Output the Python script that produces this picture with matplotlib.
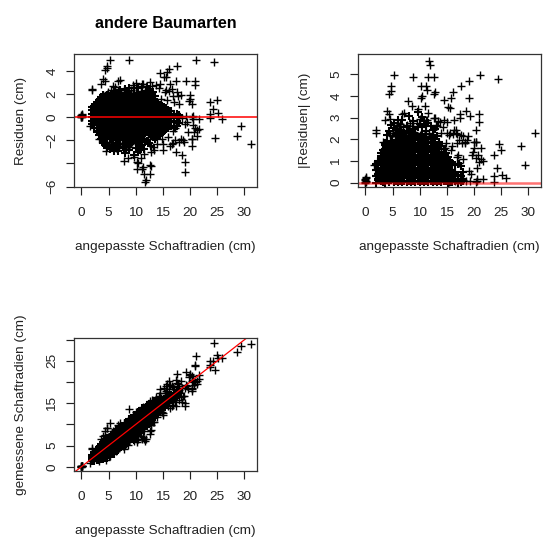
import numpy as np
import matplotlib
matplotlib.use("Agg")
import matplotlib.pyplot as plt

plt.rcParams['font.family'] = ['Liberation Sans', 'DejaVu Sans']

# points near zero (fitted, residual)
zero_fitted = [-0.06, 0.0, 0.05, 0.1, 0.0, 0.04, -0.03, 0.08]
zero_resid = [0.05, 0.12, 0.2, 0.1, 0.0, 0.25, 0.16, 0.03]

# single readable points outside the black mass
outer_fitted = [5.3, 4.66, 4.4, 4.8, 8.83, 21.1, 24.4, 17.5, 16.1, 15.7, 14.5, 15.2, 15.5, 14.5, 16.3, 17.4,
                19.3, 20.9, 20.9, 19.9, 20.0, 20.3, 23.7, 25.0, 24.3, 25.2, 23.7, 23.7, 25.8, 29.3,
                28.7, 31.2, 24.6, 21.7, 20.5, 21.7, 21.2, 20.3, 20.3, 19.6, 19.4, 20.6, 20.7, 18.8,
                17.9, 18.5, 19.0, 19.0, 17.4, 16.6, 16.9, 15.1, 16.0, 14.5, 12.6, 12.6, 11.7, 11.9,
                11.5, 11.1, 10.5, 10.2, 7.85, 4.5, 1.6, 1.9, 2.0, 4.0, 3.7, 4.4, 6.8, 7.2, 11.1,
                12.6, 11.4, 12.8, 10.2, 10.9, 16.9, 17.7, 18.3, 17.1, 19.8, 18.0, 15.6, 16.6, 13.7,
                14.2, 15.3, 16.1, 17.5, 12.9, 13.4, 15.0, 16.3, 17.3, 18.4, 14.0, 14.8, 11.6, 13.2,
                9.6, 8.6, 3.3, 5.8, 6.2, 20.4, 20.9, 21.3, 19.1, 18.7, 17.2, 9.5, 10.0, 11.3, 13.0,
                18.6, 19.2, 20.3, 20.6, 17.9, 16.4, 15.4, 14.7, 13.9, 15.8, 16.8]
outer_resid = [4.97, 4.45, 4.1, 4.25, 4.89, 4.97, 4.8, 4.45, 4.17, 3.9, 3.8, 3.5, 3.45, 2.9, 2.9, 3.15,
               3.1, 3.15, 2.8, 1.9, 1.6, 1.15, 1.3, 1.5, 0.7, 0.37, 0.3, -0.05, -0.2, -0.8,
               -1.67, -2.3, -1.8, -0.15, 0.1, -1.0, -1.6, -1.9, -2.45, -1.3, -0.4, -0.7, -1.3, -2.15,
               -2.15, -3.3, -3.9, -4.7, -3.0, -2.3, -2.25, -2.3, -1.7, -1.3, -4.1, -4.9, -5.6, -5.45,
               -4.9, -4.45, -4.0, -4.45, -3.75, -2.95, -0.8, 2.44, 2.3, 3.3, 2.87, 3.16, 3.16, 3.2, 2.87,
               3.0, -4.3, -4.2, -3.9, -3.55, 1.85, 1.85, 1.9, 1.3, 1.4, 1.1, 2.3, 2.45, 2.8,
               2.55, 2.2, 2.25, 2.2, -3.0, -2.85, -2.8, -2.45, -1.95, -1.85, -2.3, -1.85, -3.2, -2.6,
               -3.4, -3.55, -1.9, 2.65, 2.6, -1.9, -0.95, -1.1, -0.55, -1.95, -0.9, 2.75, 2.95, 2.9, 2.65,
               -0.1, 0.1, 0.05, -0.15, 0.12, 0.08, -0.05, 1.6, -1.55, 1.5, -1.2]

# lower and upper rim of the mass, fills the gap between core and outliers
rim_fitted = [4.6, 5.0, 5.4, 5.8, 6.2, 6.6, 7.0, 7.4, 7.8, 8.2, 8.6, 9.0, 9.4, 5.2, 5.8, 6.4, 7.0, 7.6, 8.2,
              8.8, 4.9, 6.1, 7.3, 8.5, 5.5, 6.7, 7.9, 9.1, 10.1, 10.9, 11.7, 12.5, 9.9, 10.7, 11.5, 12.3]
rim_resid = [-2.2, -2.3, -2.15, -2.35, -2.2, -2.4, -2.25, -2.35, -2.2, -2.4, -2.25, -2.35, -2.15, -2.55, -2.6,
             -2.7, -2.55, -2.65, -2.75, -2.6, 2.15, 2.2, 2.15, 2.25, 2.3, 2.3, 2.35, 2.3, 2.2, 2.25, 2.3, 2.2,
             -2.05, -2.15, -2.0, -1.9]

# columns of the black mass: fitted value and the residuals read at that value
core_fitted = [2.0, 2.4, 2.8, 3.2, 3.6, 4.0, 4.4, 4.8, 5.2, 5.6, 6.0, 6.4, 6.8, 7.2, 7.6, 8.0, 8.4, 8.8, 9.2,
               9.6, 10.0, 10.4, 10.8, 11.2, 11.6, 12.0, 12.4, 12.8, 13.2, 13.6, 14.0, 14.4, 14.8, 15.2,
               15.6, 16.0, 16.5, 17.0, 17.5, 18.0]
core_resid = [
    [-0.6, -0.3, 0.0, 0.3, 0.6, 0.85],
    [-0.95, -0.7, -0.42, -0.15, 0.12, 0.42, 0.7, 0.98],
    [-1.25, -0.98, -0.7, -0.4, -0.1, 0.2, 0.5, 0.8, 1.1, 1.35],
    [-1.5, -1.2, -0.9, -0.6, -0.28, 0.03, 0.33, 0.65, 0.95, 1.25, 1.5],
    [-1.85, -1.55, -1.22, -0.92, -0.6, -0.3, 0.0, 0.3, 0.6, 0.9, 1.2, 1.5, 1.72],
    [-2.2, -1.9, -1.6, -1.3, -1.0, -0.7, -0.42, -0.12, 0.18, 0.46, 0.76, 1.05, 1.35, 1.65, 1.9],
    [-2.4, -1.75, -1.45, -1.15, -0.85, -0.55, -0.27, 0.03, 0.32, 0.62, 0.92, 1.2, 1.5, 1.78],
    [-2.65, -1.92, -1.6, -1.3, -1.0, -0.7, -0.4, -0.12, 0.17, 0.47, 0.77, 1.07, 1.36, 1.66, 1.94],
    [-2.75, -1.76, -1.45, -1.15, -0.85, -0.55, -0.25, 0.05, 0.33, 0.63, 0.93, 1.22, 1.52, 1.8],
    [-2.5, -1.9, -1.6, -1.3, -1.0, -0.7, -0.4, -0.1, 0.18, 0.48, 0.78, 1.08, 1.38, 1.66, 1.95],
    [-2.9, -1.75, -1.45, -1.15, -0.85, -0.55, -0.25, 0.05, 0.35, 0.63, 0.93, 1.23, 1.53, 1.8, 2.2],
    [-2.45, -1.88, -1.6, -1.3, -1.0, -0.7, -0.4, -0.1, 0.2, 0.48, 0.78, 1.08, 1.38, 1.68, 1.95],
    [-2.9, -2.0, -1.72, -1.45, -1.15, -0.85, -0.55, -0.25, 0.05, 0.35, 0.63, 0.93, 1.23, 1.53, 1.82],
    [-2.3, -1.86, -1.6, -1.3, -1.0, -0.7, -0.4, -0.1, 0.2, 0.5, 0.78, 1.08, 1.38, 1.68, 1.96, 2.3],
    [-2.6, -2.0, -1.72, -1.45, -1.15, -0.85, -0.55, -0.25, 0.05, 0.35, 0.65, 0.95, 1.23, 1.53, 1.82],
    [-3.1, -1.85, -1.58, -1.3, -1.0, -0.7, -0.4, -0.1, 0.2, 0.5, 0.8, 1.1, 1.38, 1.68, 1.98, 2.4],
    [-2.35, -1.95, -1.7, -1.45, -1.15, -0.85, -0.55, -0.25, 0.05, 0.35, 0.65, 0.95, 1.25, 1.53, 1.83],
    [-2.85, -1.82, -1.58, -1.3, -1.0, -0.7, -0.4, -0.1, 0.2, 0.5, 0.8, 1.1, 1.4, 1.68, 1.98, 2.5],
    [-2.2, -1.95, -1.7, -1.45, -1.15, -0.85, -0.55, -0.25, 0.05, 0.35, 0.65, 0.95, 1.25, 1.55, 1.83],
    [-3.25, -1.82, -1.55, -1.3, -1.0, -0.7, -0.4, -0.1, 0.2, 0.5, 0.8, 1.1, 1.4, 1.7, 1.98, 2.55],
    [-2.7, -1.75, -1.45, -1.15, -0.85, -0.55, -0.25, 0.05, 0.35, 0.65, 0.95, 1.25, 1.55, 1.85],
    [-3.05, -2.25, -1.6, -1.3, -1.0, -0.7, -0.4, -0.1, 0.2, 0.5, 0.8, 1.1, 1.4, 1.7, 2.0, 2.55],
    [-2.85, -1.95, -1.45, -1.15, -0.85, -0.55, -0.25, 0.05, 0.35, 0.65, 0.95, 1.25, 1.55, 1.85],
    [-2.4, -1.6, -1.3, -1.0, -0.7, -0.4, -0.1, 0.2, 0.5, 0.8, 1.1, 1.4, 1.7, 2.0, 2.6],
    [-2.75, -1.9, -1.45, -1.15, -0.85, -0.55, -0.25, 0.05, 0.35, 0.65, 0.95, 1.25, 1.55, 1.85],
    [-2.05, -1.3, -1.0, -0.7, -0.4, -0.1, 0.2, 0.5, 0.8, 1.1, 1.4, 1.7, 2.0, 2.6],
    [-2.2, -1.45, -1.15, -0.85, -0.55, -0.25, 0.05, 0.35, 0.65, 0.95, 1.25, 1.55, 1.85, 2.45],
    [-2.5, -1.55, -1.3, -1.0, -0.7, -0.4, -0.1, 0.2, 0.5, 0.8, 1.1, 1.4, 1.7, 2.0],
    [-1.7, -1.4, -1.12, -0.85, -0.55, -0.25, 0.05, 0.35, 0.65, 0.95, 1.25, 1.55, 2.15],
    [-1.9, -1.2, -0.95, -0.7, -0.4, -0.1, 0.2, 0.5, 0.8, 1.1, 1.4, 1.8],
    [-1.7, -1.3, -1.0, -0.75, -0.5, -0.25, 0.05, 0.35, 0.65, 0.95, 1.3],
    [-1.55, -1.1, -0.85, -0.6, -0.35, -0.1, 0.2, 0.5, 0.8, 1.05],
    [-1.35, -0.95, -0.65, -0.4, -0.15, 0.1, 0.35, 0.65, 0.95],
    [-1.2, -0.8, -0.5, -0.25, 0.0, 0.25, 0.5, 0.85],
    [-1.0, -0.6, -0.3, -0.05, 0.2, 0.45, 0.8],
    [-0.9, -0.5, -0.2, 0.05, 0.3, 0.6],
    [-0.8, -0.4, -0.1, 0.15, 0.5],
    [-0.85, -0.35, 0.0, 0.3],
    [-0.75, -0.3, 0.05, 0.3],
    [-0.5, -0.1, 0.15],
]

x_ticks = [0, 5, 10, 15, 20, 25, 30]
y_ticks_resid = [-6, -4, -2, 0, 2, 4]
y_labels_resid = ['\u22126', '', '\u22122', '0', '2', '4']
y_ticks_abs = [0, 1, 2, 3, 4, 5]
y_ticks_meas = [0, 5, 10, 15, 20, 25, 30]
y_labels_meas = ['0', '5', '', '15', '', '25', '']

sparse_x = np.array(zero_fitted + outer_fitted + rim_fitted)
sparse_r = np.array(zero_resid + outer_resid + rim_resid)
core_x = []
core_r = []
for fv, col in zip(core_fitted, core_resid):
    for r in col:
        core_x.append(fv)
        core_r.append(r)
core_x = np.array(core_x)
core_r = np.array(core_r)

W, H = 543, 539
fig = plt.figure(figsize=(W / 100, H / 100), dpi=100)


def make_ax(x0, x1, y0, y1, xlim, ylim):
    # pixel box of the panel, y counted from the top
    ax = fig.add_axes([x0 / W, 1 - y1 / H, (x1 - x0) / W, (y1 - y0) / H])
    ax.set_xlim(xlim)
    ax.set_ylim(ylim)
    ax.set_xticks(x_ticks)
    ax.tick_params(axis='both', length=5.8, width=0.85, labelsize=9.7, color='#222222', labelcolor='#222222')
    ax.tick_params(axis='x', pad=8.5)
    ax.tick_params(axis='y', pad=5.5)
    for sp in ax.spines.values():
        sp.set_linewidth(0.9)
        sp.set_color('#333333')
    ax.set_xlabel('angepasste Schaftradien (cm)', fontsize=9.7, labelpad=16.2, color='#222222')
    return ax


def draw_points(ax, xs, ys, mew=1.0):
    ax.plot(xs, ys, linestyle='none', marker='+', color='black', markersize=5.2, markeredgewidth=mew)


def set_ylabel(ax, text):
    ax.set_ylabel(text, fontsize=9.7, color='#222222')
    ax.yaxis.set_label_coords(-0.258, 0.5)


# residuals
ax1 = make_ax(74, 257, 54, 187, (-1.35, 32.3), (-6.03, 5.45))
draw_points(ax1, sparse_x, sparse_r)
draw_points(ax1, core_x, core_r, mew=1.5)  # heavier so the mass closes up
ax1.axhline(0, color='#ff0000', linewidth=1.1)
ax1.set_yticks(y_ticks_resid)
ax1.set_yticklabels(y_labels_resid, rotation=90, va='center')
set_ylabel(ax1, 'Residuen (cm)')
ax1.set_title('andere Baumarten', fontsize=11.6, fontweight='bold', pad=19)

# absolute residuals
ax2 = make_ax(358, 541, 54, 187, (-1.35, 32.3), (-0.2, 5.94))
draw_points(ax2, sparse_x, np.abs(sparse_r))
draw_points(ax2, core_x, np.abs(core_r), mew=1.5)
ax2.axhline(0, color='#ff0000', linewidth=1.8, alpha=0.55)
ax2.set_yticks(y_ticks_abs)
ax2.set_yticklabels([str(t) for t in y_ticks_abs], rotation=90, va='center')
set_ylabel(ax2, '|Residuen| (cm)')

# measured against fitted
ax3 = make_ax(74, 257, 338, 471, (-1.35, 32.3), (-1.0, 30.4))
draw_points(ax3, sparse_x, sparse_x + sparse_r)
draw_points(ax3, core_x, core_x + core_r, mew=1.5)
ax3.axline((0, 0), slope=1, color='#ff0000', linewidth=0.9)
ax3.set_yticks(y_ticks_meas)
ax3.set_yticklabels(y_labels_meas, rotation=90, va='center')
set_ylabel(ax3, 'gemessene Schaftradien (cm)')

fig.savefig('out.png', dpi=100)
